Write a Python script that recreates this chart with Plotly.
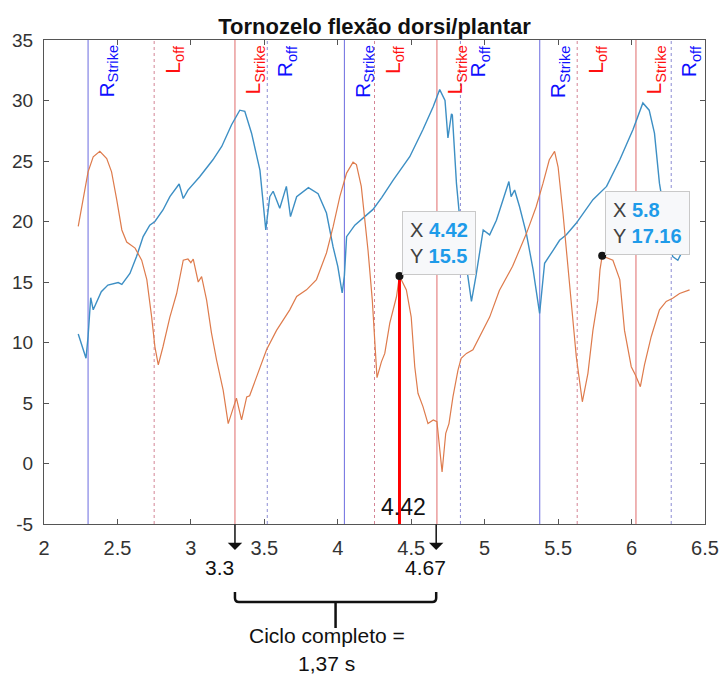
import plotly.graph_objects as go

# ---------------- data ----------------
time_blue = [2.233, 2.26, 2.286, 2.30, 2.318, 2.335, 2.36, 2.39, 2.435, 2.505, 2.53, 2.585, 2.63,
             2.675, 2.72, 2.755, 2.81, 2.857, 2.92, 2.948, 2.98, 3.06, 3.15, 3.21, 3.277, 3.333,
             3.367, 3.413, 3.47, 3.488, 3.51, 3.537, 3.56, 3.605, 3.65, 3.678, 3.72, 3.80, 3.866,
             3.923, 3.968, 4.0, 4.03, 4.045, 4.06, 4.116, 4.17, 4.24, 4.30, 4.376, 4.49, 4.58,
             4.65, 4.694, 4.73, 4.75, 4.774, 4.78, 4.808, 4.84, 4.876, 4.91, 4.94, 4.99, 5.034,
             5.08, 5.125, 5.165, 5.18, 5.204, 5.238, 5.284, 5.33, 5.374, 5.408, 5.43, 5.465, 5.51,
             5.556, 5.623, 5.737, 5.83, 5.92, 6.01, 6.077, 6.12, 6.156, 6.19, 6.24, 6.28, 6.315, 6.34]
angle_blue = [10.7, 9.6, 8.7, 10.5, 13.7, 12.7, 13.4, 14.2, 14.75, 14.95, 14.8, 15.7, 17.1,
              18.75, 19.7, 20.0, 20.95, 22.05, 23.1, 21.9, 22.6, 23.7, 25.1, 26.2, 28.0, 29.2,
              29.1, 27.3, 24.25, 21.8, 19.3, 22.05, 22.5, 21.1, 22.9, 20.4, 22.05, 22.8, 22.3,
              20.7, 17.9, 16.3, 14.1, 15.5, 18.75, 19.7, 20.25, 21.0, 22.0, 23.4, 25.35, 27.6,
              29.5, 30.9, 30.0, 26.9, 28.9, 28.8, 23.15, 19.0, 16.3, 13.4, 15.45, 19.3, 18.9,
              20.1, 21.8, 23.3, 22.05, 22.6, 21.2, 19.0, 16.0, 12.4, 16.55, 17.0, 17.6, 18.45,
              18.9, 19.85, 21.8, 22.9, 25.1, 27.6, 29.8, 29.2, 27.3, 23.15, 19.5, 17.1, 16.8, 17.4]

time_orange = [2.233, 2.267, 2.30, 2.335, 2.38, 2.427, 2.46, 2.495, 2.53, 2.563, 2.62, 2.665,
               2.70, 2.733, 2.755, 2.778, 2.81, 2.857, 2.903, 2.948, 2.98, 3.0, 3.016, 3.05,
               3.073, 3.107, 3.14, 3.175, 3.22, 3.254, 3.284, 3.31, 3.345, 3.38, 3.40, 3.447,
               3.515, 3.583, 3.673, 3.72, 3.787, 3.855, 3.923, 3.968, 4.014, 4.06, 4.104, 4.127,
               4.16, 4.206, 4.235, 4.255, 4.267, 4.297, 4.32, 4.354, 4.40, 4.42, 4.467, 4.50,
               4.524, 4.546, 4.58, 4.614, 4.65, 4.675, 4.694, 4.71, 4.735, 4.757, 4.784, 4.818,
               4.84, 4.876, 4.92, 4.966, 5.034, 5.10, 5.19, 5.284, 5.35, 5.397, 5.44, 5.476,
               5.50, 5.533, 5.567, 5.60, 5.624, 5.665, 5.703, 5.737, 5.77, 5.785, 5.80, 5.873,
               5.92, 5.952, 5.998, 6.027, 6.06, 6.088, 6.134, 6.19, 6.236, 6.28, 6.327, 6.395]
angle_orange = [19.6, 22.05, 24.1, 25.35, 25.8, 25.2, 24.1, 21.8, 19.3, 18.3, 17.8, 16.8,
                15.2, 12.1, 9.65, 8.15, 9.65, 12.1, 14.05, 16.8, 16.9, 16.6, 16.9, 15.0,
                15.45, 13.5, 10.8, 8.55, 6.05, 3.3, 4.4, 5.4, 3.6, 5.5, 5.6, 7.2,
                9.4, 11.0, 12.7, 13.8, 14.35, 15.2, 17.4, 19.55, 22.05, 24.0, 24.9, 24.7,
                22.9, 17.6, 13.5, 9.5, 7.1, 8.4, 9.1, 11.6, 13.8, 15.5, 14.35, 12.1,
                8.0, 5.8, 4.7, 3.3, 3.6, 3.45, 1.4, -0.7, 2.5, 3.3, 5.5, 7.7,
                8.7, 9.1, 9.4, 10.5, 12.1, 14.3, 16.3, 19.0, 21.2, 23.15, 25.1, 25.8,
                24.5, 20.7, 16.3, 12.1, 8.8, 5.1, 7.45, 11.0, 13.5, 16.0, 17.16, 16.8,
                15.2, 11.0, 8.0, 7.3, 6.35, 8.15, 10.5, 12.7, 13.4, 13.65, 14.05, 14.35]

r_strike = [2.30, 4.045, 5.375]
l_off = [2.75, 4.25, 5.63]
l_strike = [3.30, 4.675, 6.03]
r_off = [3.52, 4.835, 6.27]

tip_x = [4.42, 5.8]
tip_y = [15.5, 17.16]

cycle = [3.3, 4.67]

x_ticks = [2, 2.5, 3, 3.5, 4, 4.5, 5, 5.5, 6, 6.5]
x_ticklabels = ["2", "2.5", "3", "3.5", "4", "4.5", "5", "5.5", "6", "6.5"]
y_ticks = [-5, 0, 5, 10, 15, 20, 25, 30, 35]
y_ticklabels = ["-5", "0", "5", "10", "15", "20", "25", "30", "35"]

X_RANGE = [2, 6.5]
Y_RANGE = [-5, 35]

# ---------------- layout geometry ----------------
W, H = 723, 675
ML, MR, MT, MB = 44, 18, 40, 151
PW = W - ML - MR
PH = H - MT - MB
x_per_px = (X_RANGE[1] - X_RANGE[0]) / PW
p_per_px = 1.0 / PH

FONT = "Liberation Sans, Arial, Helvetica, sans-serif"

fig = go.Figure()

fig.add_trace(go.Scatter(x=time_blue, y=angle_blue, mode="lines",
                         line=dict(color="#3d8fc4", width=1.4), hoverinfo="skip",
                         showlegend=False))
fig.add_trace(go.Scatter(x=time_orange, y=angle_orange, mode="lines",
                         line=dict(color="#de7b4c", width=1.2), hoverinfo="skip",
                         showlegend=False))

# red marker line at first datatip
fig.add_trace(go.Scatter(x=[tip_x[0], tip_x[0]], y=[Y_RANGE[0], tip_y[0]], mode="lines",
                         line=dict(color="#ff0000", width=3), hoverinfo="skip",
                         showlegend=False))
# datatip dots
fig.add_trace(go.Scatter(x=tip_x, y=tip_y, mode="markers",
                         marker=dict(color="#151515", size=8), hoverinfo="skip",
                         showlegend=False))

shapes = []
annotations = []

events = [
    (r_strike, "R<sub>Strike</sub>", "#1010ff", "rgba(70,70,215,0.8)", "solid"),
    (l_off, "L<sub>off</sub>", "#ff1010", "rgba(205,110,130,0.85)", "dot"),
    (l_strike, "L<sub>Strike</sub>", "#ff1010", "rgba(215,70,70,0.8)", "solid"),
    (r_off, "R<sub>off</sub>", "#1010ff", "rgba(120,120,205,0.85)", "dot"),
]
for xs, lab, tcol, lcol, dash in events:
    for xv in xs:
        shapes.append(dict(type="line", xref="x", yref="paper", x0=xv, x1=xv, y0=0, y1=1,
                           line=dict(color=lcol, width=1, dash=dash), layer="below"))
        annotations.append(dict(x=xv, y=1, xref="x", yref="paper", text=lab, showarrow=False,
                                textangle=-90, xanchor="left", yanchor="top", xshift=4,
                                yshift=-3, font=dict(family=FONT, size=21, color=tcol)))

# datatip boxes
for xv, yv in zip(tip_x, tip_y):
    txt = ("X <b><span style='color:#1e9be9'>%s</span></b><br>"
           "Y <b><span style='color:#1e9be9'>%s</span></b>") % (f"{xv:g}", f"{yv:g}")
    annotations.append(dict(x=xv, y=yv, xref="x", yref="y", text=txt, showarrow=False,
                            xanchor="left", yanchor="bottom", xshift=3, yshift=1,
                            align="left", bgcolor="#f7f8fa", bordercolor="#c9c9c9",
                            borderwidth=1, borderpad=7,
                            font=dict(family=FONT, size=20, color="#404040")))

# value label at the red line
annotations.append(dict(x=tip_x[0], y=Y_RANGE[0], xref="x", yref="y", text=f"{tip_x[0]:g}",
                        showarrow=False, xanchor="center", yanchor="bottom", xshift=4,
                        yshift=2, font=dict(family=FONT, size=23, color="#111111")))

# arrows and cycle labels below the axis
arrow_tip_p = -26 * p_per_px
label_p = -43 * p_per_px
for i, cv in enumerate(cycle):
    annotations.append(dict(x=cv, y=arrow_tip_p, xref="x", yref="paper", text="",
                            showarrow=True, ax=0, ay=-27, arrowhead=1, arrowsize=1.6,
                            arrowwidth=1.5, arrowcolor="#111111"))
    annotations.append(dict(x=cv, y=label_p, xref="x", yref="paper", text=f"{cv:g}",
                            showarrow=False, xanchor="center", yanchor="middle",
                            xshift=(-15 if i == 0 else -11),
                            font=dict(family=FONT, size=21, color="#111111")))

# brace
x0, x1 = cycle
xm = (x0 + x1) / 2
yt = -68 * p_per_px
yh = -78 * p_per_px
yb = -104 * p_per_px
r_x = 4 * x_per_px
r_y = 4 * p_per_px
brace = (f"M {x0},{yt} L {x0},{yh + r_y} Q {x0},{yh} {x0 + r_x},{yh} "
         f"L {x1 - r_x},{yh} Q {x1},{yh} {x1},{yh + r_y} L {x1},{yt} "
         f"M {xm},{yh} L {xm},{yb}")
shapes.append(dict(type="path", xref="x", yref="paper", path=brace,
                   line=dict(color="#111111", width=2.5)))

dur = f"{(x1 - x0):.2f}".replace(".", ",")
annotations.append(dict(x=xm, y=-111 * p_per_px, xref="x", yref="paper",
                        text="Ciclo completo =", showarrow=False, xanchor="center",
                        yanchor="middle", xshift=-9,
                        font=dict(family=FONT, size=21, color="#111111")))
annotations.append(dict(x=xm, y=-139 * p_per_px, xref="x", yref="paper",
                        text=f"{dur} s", showarrow=False, xanchor="center",
                        yanchor="middle", xshift=-9, borderpad=0,
                        font=dict(family=FONT, size=21, color="#111111")))

fig.update_layout(
    width=W, height=H,
    margin=dict(l=ML, r=MR, t=MT, b=MB, autoexpand=False),
    paper_bgcolor="white", plot_bgcolor="white",
    title=dict(text="<b>Tornozelo flexão dorsi/plantar</b>", x=(ML + PW / 2) / W,
               xanchor="center", y=1 - 26 / H, yanchor="middle",
               font=dict(family=FONT, size=22, color="#111111")),
    shapes=shapes,
    annotations=annotations,
    showlegend=False,
)
axis_common = dict(showgrid=False, zeroline=False, showline=True, linecolor="#555555",
                   linewidth=1, mirror="ticks", ticks="inside", ticklen=5, tickcolor="#555555",
                   automargin=False, ticklabelstandoff=6)
fig.update_xaxes(range=X_RANGE, tickvals=x_ticks, ticktext=x_ticklabels,
                 tickfont=dict(family=FONT, size=20, color="#333333"), **axis_common)
fig.update_yaxes(range=Y_RANGE, tickvals=y_ticks, ticktext=y_ticklabels,
                 tickfont=dict(family=FONT, size=19, color="#333333"), **axis_common)

fig.write_html("out.html")
